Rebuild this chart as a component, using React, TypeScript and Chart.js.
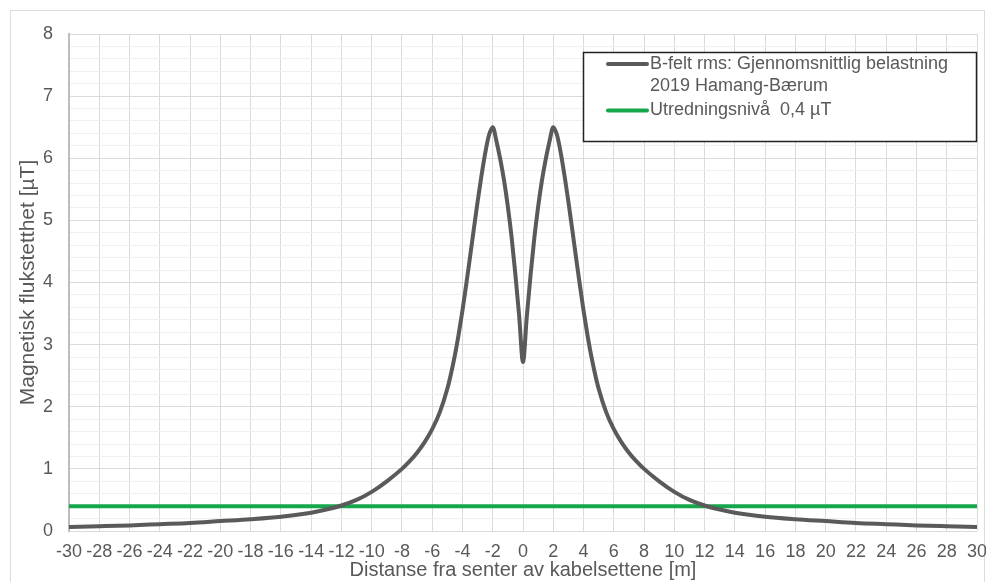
import React, { useEffect, useRef } from "react";
import { Chart, registerables } from "chart.js";

Chart.register(...registerables);

// Distance from cable centre [m]
const distances: number[] = [
  -30, -28, -26, -24, -22, -20, -18, -16, -14, -13, -12, -11, -10, -9, -8, -7.5, -7, -6.5, -6, -5.5, -5, -4.75, -4.5, -4.25, -4,
  -3.75, -3.5, -3.25, -3, -2.75, -2.5, -2.25, -2, -1.75, -1.5, -1.25, -1, -0.75, -0.5, -0.25,
  0,
  0.25, 0.5, 0.75, 1, 1.25, 1.5, 1.75, 2, 2.25, 2.5, 2.75, 3, 3.25, 3.5, 3.75,
  4, 4.25, 4.5, 4.75, 5, 5.5, 6, 6.5, 7, 7.5, 8, 9, 10, 11, 12, 13, 14, 16, 18, 20, 22, 24, 26, 28, 30,
];

// B-field rms [µT]
const bField: number[] = [
  0.066, 0.077, 0.09, 0.11, 0.13, 0.16, 0.19, 0.23, 0.295, 0.345, 0.41, 0.5, 0.63, 0.8, 1.0, 1.12, 1.26, 1.43, 1.64, 1.91, 2.29, 2.54, 2.83, 3.17, 3.55,
  3.97, 4.41, 4.86, 5.3, 5.71, 6.08, 6.37, 6.5, 6.27, 5.98, 5.64, 5.22, 4.72, 4.12, 3.45,
  2.72,
  3.45, 4.12, 4.72, 5.22, 5.64, 5.98, 6.27, 6.5, 6.37, 6.08, 5.71, 5.3, 4.86, 4.41, 3.97,
  3.55, 3.17, 2.83, 2.54, 2.29, 1.91, 1.64, 1.43, 1.26, 1.12, 1.0, 0.8, 0.63, 0.5, 0.41, 0.345, 0.295, 0.23, 0.19, 0.16, 0.13, 0.11, 0.09, 0.077, 0.066,
];

// Investigation level
const levelX: number[] = [-30, 30];
const levelY: number[] = [0.4, 0.4];

const seriesLabels: string[][] = [
  ["B-felt rms: Gjennomsnittlig belastning", "2019 Hamang-Bærum"],
  ["Utredningsnivå  0,4 µT"],
];

const xTitle = "Distanse fra senter av kabelsettene [m]";
const yTitle = "Magnetisk flukstetthet [µT]";

const FONT = "'Liberation Sans', Arial, sans-serif";
const TEXT = "#595959";

const isInt = (v: number) => Math.abs(v - Math.round(v)) < 1e-6;

const framePlugin = {
  id: "frame",
  beforeDraw(chart: any) {
    const { ctx, width, height } = chart;
    ctx.save();
    ctx.fillStyle = "#ffffff";
    ctx.fillRect(0, 0, width, height);
    ctx.strokeStyle = "#dcdcdc";
    ctx.lineWidth = 1;
    ctx.strokeRect(10.5, 10.5, width - 12, height);
    ctx.restore();
  },
};

const legendPlugin = {
  id: "boxLegend",
  afterDraw(chart: any) {
    const { ctx } = chart;
    const ds = chart.data.datasets;
    const bx = 583.5, by = 52.5, bw = 393, bh = 89;
    ctx.save();
    ctx.fillStyle = "#ffffff";
    ctx.fillRect(bx, by, bw, bh);
    ctx.strokeStyle = "#222222";
    ctx.lineWidth = 1.5;
    ctx.strokeRect(bx, by, bw, bh);
    ctx.font = `18px ${FONT}`;
    ctx.textBaseline = "middle";
    ctx.textAlign = "left";
    const rows = [
      { y: 64, lines: seriesLabels[0], color: ds[0].borderColor },
      { y: 110.5, lines: seriesLabels[1], color: ds[1].borderColor },
    ];
    rows.forEach((r) => {
      ctx.strokeStyle = r.color;
      ctx.lineWidth = 4;
      ctx.lineCap = "round";
      ctx.beginPath();
      ctx.moveTo(608, r.y);
      ctx.lineTo(647, r.y);
      ctx.stroke();
      ctx.fillStyle = TEXT;
      r.lines.forEach((t, i) => ctx.fillText(t, 650, r.y + i * 22.5));
    });
    ctx.restore();
  },
};

export default function App() {
  const ref = useRef<HTMLCanvasElement | null>(null);

  useEffect(() => {
    if (!ref.current) return;
    Chart.defaults.font.family = FONT;
    const chart = new Chart(ref.current, {
      type: "line",
      data: {
        datasets: [
          {
            label: seriesLabels[0].join(" "),
            data: distances.map((x, i) => ({ x, y: bField[i] })),
            borderColor: "#5a5a5a",
            borderWidth: 4,
            pointRadius: 0,
            cubicInterpolationMode: "monotone",
            fill: false,
          },
          {
            label: seriesLabels[1].join(" "),
            data: levelX.map((x, i) => ({ x, y: levelY[i] })),
            borderColor: "#16a64b",
            borderWidth: 4,
            pointRadius: 0,
            fill: false,
          },
        ],
      },
      options: {
        animation: false,
        responsive: false,
        layout: { padding: { left: 10, top: 34, right: 9, bottom: 0 } },
        plugins: { legend: { display: false }, tooltip: { enabled: false } },
        scales: {
          x: {
            type: "linear",
            min: -30,
            max: 30,
            ticks: {
              stepSize: 2,
              autoSkip: false,
              maxRotation: 0,
              padding: 10,
              color: TEXT,
              font: { size: 18, family: FONT },
              callback: (v: any) => String(v),
            },
            grid: { color: "#dadada", drawTicks: false, lineWidth: 1 },
            border: { display: false },
            title: {
              display: true,
              text: xTitle,
              color: TEXT,
              font: { size: 20, family: FONT },
              padding: { top: 0, bottom: 0 },
            },
            afterFit: (s: any) => {
              s.height = 51;
              s.paddingLeft = 0;
              s.paddingRight = 0;
            },
          },
          y: {
            type: "linear",
            min: 0,
            max: 8,
            ticks: {
              stepSize: 0.2,
              autoSkip: false,
              padding: 16,
              color: TEXT,
              font: { size: 18, family: FONT },
              callback: (v: any) => (isInt(Number(v)) ? String(Math.round(Number(v))) : ""),
            },
            grid: {
              drawTicks: false,
              lineWidth: 1,
              color: (c: any) => (isInt(c.tick.value) ? "#dadada" : "#efefef"),
            },
            border: { display: true, color: "#bdbdbd", width: 2 },
            title: {
              display: true,
              text: yTitle,
              color: TEXT,
              font: { size: 21, family: FONT },
              padding: { top: 6, bottom: 0 },
            },
            afterFit: (s: any) => {
              s.width = 59;
              s.paddingTop = 0;
              s.paddingBottom = 0;
            },
          },
        },
      },
      plugins: [framePlugin, legendPlugin],
    } as any);
    return () => chart.destroy();
  }, []);

  return (
    <div style={{ position: "absolute", left: 0, top: 0, width: 986, height: 582 }}>
      <canvas ref={ref} width={986} height={582} style={{ display: "block" }} />
    </div>
  );
}
